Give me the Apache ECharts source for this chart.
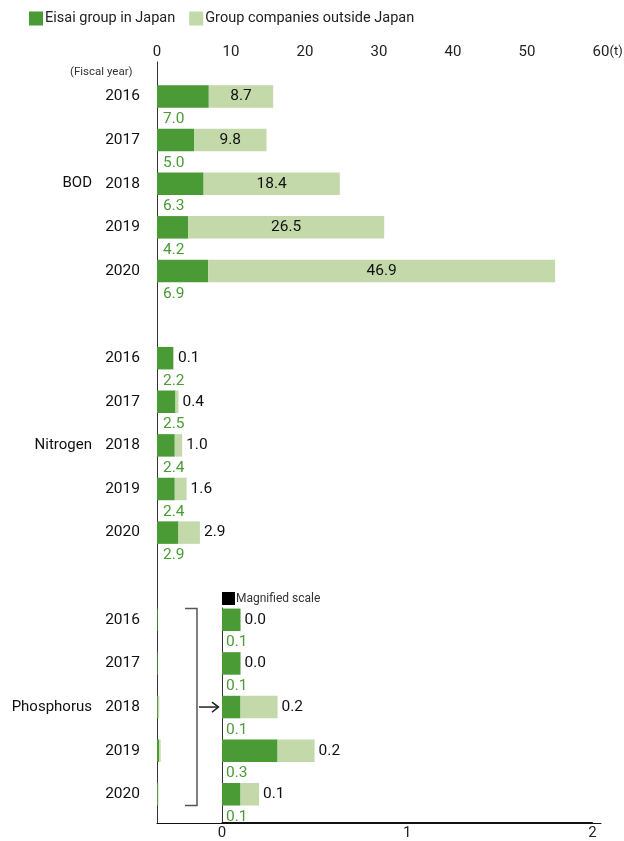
<!DOCTYPE html>
<html>
<head>
<meta charset="utf-8">
<script src="https://cdn.jsdelivr.net/npm/echarts@6/dist/echarts.min.js"></script>
<style>
html,body{margin:0;padding:0;background:#fff;}
#chart{width:624px;height:841px;}
</style>
</head>
<body>
<div id="chart"></div>
<script>
// ---- data ----
var fiscalYears = ['2016', '2017', '2018', '2019', '2020'];
var groupNames = ['BOD', 'Nitrogen', 'Phosphorus'];
var seriesNames = ['Eisai group in Japan', 'Group companies outside Japan'];
var japanBOD = [7.0, 5.0, 6.3, 4.2, 6.9];
var outsideBOD = [8.7, 9.8, 18.4, 26.5, 46.9];
var japanNitrogen = [2.2, 2.5, 2.4, 2.4, 2.9];
var outsideNitrogen = [0.1, 0.4, 1.0, 1.6, 2.9];
var japanPhosphorus = [0.1, 0.1, 0.1, 0.3, 0.1];
var outsidePhosphorus = [0.0, 0.0, 0.2, 0.2, 0.1];
var mainTicks = [0, 10, 20, 30, 40, 50, 60];
var magnifiedTicks = [0, 1, 2];
var unitLabel = '(t)';
var fiscalYearLabel = '(Fiscal year)';
var magnifiedLabel = 'Magnified scale';

// ---- styles ----
var DARK = '#4a9b35';
var LIGHT = '#c3d9aa';
var FONT = "Roboto, 'Liberation Sans', sans-serif";
var BAR_W = 22.5;
var SLOT = 43.61;
var GRID_A_TOP = 74.7;
var VAL_FS = 15.5;

function fmt(p) { return p.value.toFixed(1); }

// ---- build category rows (group, gap, group, gap, group) ----
var rowYears = [], rowGroups = [], rowJapan = [], rowOutside = [];
var groupsData = [[japanBOD, outsideBOD], [japanNitrogen, outsideNitrogen], [japanPhosphorus, outsidePhosphorus]];
groupsData.forEach(function (g, gi) {
  if (gi > 0) {
    rowYears.push(''); rowGroups.push('');
    rowJapan.push('-'); rowOutside.push('-');
  }
  fiscalYears.forEach(function (y, i) {
    rowYears.push(y);
    rowGroups.push(i === 2 ? groupNames[gi] : '');
    var showLabels = gi < 2;
    rowJapan.push({
      value: g[0][i],
      label: {
        show: showLabels,
        position: [6, BAR_W + 11.5],
        align: 'left', verticalAlign: 'middle',
        color: DARK, fontSize: VAL_FS, fontFamily: FONT, formatter: fmt
      }
    });
    rowOutside.push({
      value: g[1][i],
      label: {
        show: showLabels,
        position: gi === 0 ? 'inside' : 'right',
        distance: 4,
        color: '#111', fontSize: VAL_FS, fontFamily: FONT, formatter: fmt
      }
    });
  });
});

var magJapan = japanPhosphorus.map(function (v) {
  return { value: v, label: {
    show: true, position: [4, BAR_W + 11.5], align: 'left', verticalAlign: 'middle',
    color: DARK, fontSize: VAL_FS, fontFamily: FONT, formatter: fmt } };
});
var magOutside = outsidePhosphorus.map(function (v) {
  return { value: v, label: {
    show: true, position: 'right', distance: 4,
    color: '#111', fontSize: VAL_FS, fontFamily: FONT, formatter: fmt } };
});

var mainMin = mainTicks[0], mainMax = mainTicks[mainTicks.length - 1], mainInt = mainTicks[1] - mainTicks[0];
var magMin = magnifiedTicks[0], magMax = magnifiedTicks[magnifiedTicks.length - 1], magInt = magnifiedTicks[1] - magnifiedTicks[0];

var nRows = rowYears.length;
var magTop = GRID_A_TOP + 12 * SLOT;

var chart = echarts.init(document.getElementById('chart'), null, { renderer: 'canvas' });

var option = {
  animation: false,
  backgroundColor: '#fff',
  textStyle: { fontFamily: FONT },
  color: [DARK, LIGHT],
  title: [
    { text: fiscalYearLabel, left: 70, top: 66.5, padding: 0,
      textStyle: { fontSize: 11.5, fontWeight: 'normal', color: '#333', fontFamily: FONT } },
    { text: unitLabel, left: 609.5, top: 45, padding: 0,
      textStyle: { fontSize: 13, fontWeight: 'normal', color: '#222', fontFamily: FONT } },
    { text: '{sq|}{t|' + magnifiedLabel + '}', left: 222, top: 592, padding: 0,
      textStyle: { fontWeight: 'normal', rich: {
        sq: { width: 13, height: 13, backgroundColor: '#000' },
        t: { fontSize: 12, fontWeight: 'normal', color: '#333', fontFamily: FONT, padding: [0, 0, 0, 1] }
      } } }
  ],
  legend: {
    data: seriesNames,
    left: 29, top: 11, padding: 0,
    icon: 'rect', itemWidth: 14, itemHeight: 14, itemGap: 14,
    textStyle: { fontSize: 14.5, color: '#222', fontFamily: FONT, padding: [0, 0, 0, -3] }
  },
  grid: [
    { left: 157, top: 62, width: 444, height: 761 },                    // main axes frame
    { left: 157, top: GRID_A_TOP, width: 444, height: SLOT * nRows },   // main bars
    { left: 222, top: magTop, width: 370.4, height: SLOT * 5 },         // magnified bars
    { left: 222, top: 608, width: 370.4, height: 216 }                  // magnified axes frame
  ],
  xAxis: [
    { gridIndex: 0, type: 'value', position: 'top', min: mainMin, max: mainMax, interval: mainInt,
      axisLine: { show: true, lineStyle: { color: '#111', width: 1 } },
      axisTick: { show: false }, splitLine: { show: false },
      axisLabel: { fontSize: 15, color: '#222', margin: 2, fontFamily: FONT } },
    { gridIndex: 1, type: 'value', min: mainMin, max: mainMax, show: false },
    { gridIndex: 2, type: 'value', min: magMin, max: magMax, show: false },
    { gridIndex: 3, type: 'value', position: 'bottom', min: magMin, max: magMax, interval: magInt,
      axisLine: { show: true, lineStyle: { color: '#111', width: 1 } },
      axisTick: { show: false }, splitLine: { show: false },
      axisLabel: { fontSize: 15, color: '#222', margin: 4, fontFamily: FONT } }
  ],
  yAxis: [
    { gridIndex: 0, type: 'value', min: 0, max: 1,
      axisLine: { show: true, lineStyle: { color: '#333', width: 1 } },
      axisTick: { show: false }, axisLabel: { show: false }, splitLine: { show: false } },
    { gridIndex: 1, type: 'category', inverse: true, data: rowYears,
      axisLine: { show: false }, axisTick: { show: false },
      axisLabel: { fontSize: 15.5, color: '#111', margin: 17, fontFamily: FONT, interval: 0 } },
    { gridIndex: 1, type: 'category', inverse: true, data: rowGroups, position: 'left', offset: 0,
      axisLine: { show: false }, axisTick: { show: false },
      axisLabel: { fontSize: 15, color: '#111', margin: 65, fontFamily: FONT, interval: 0 } },
    { gridIndex: 2, type: 'category', inverse: true, data: fiscalYears, show: false },
    { gridIndex: 3, type: 'value', min: 0, max: 1,
      axisLine: { show: true, lineStyle: { color: '#333', width: 1 } },
      axisTick: { show: false }, axisLabel: { show: false }, splitLine: { show: false } }
  ],
  series: [
    { name: seriesNames[0], type: 'bar', xAxisIndex: 1, yAxisIndex: 1, stack: 'main',
      barWidth: BAR_W, itemStyle: { color: DARK }, data: rowJapan },
    { name: seriesNames[1], type: 'bar', xAxisIndex: 1, yAxisIndex: 1, stack: 'main',
      barWidth: BAR_W, itemStyle: { color: LIGHT }, data: rowOutside },
    { name: seriesNames[0], type: 'bar', xAxisIndex: 2, yAxisIndex: 3, stack: 'mag',
      barWidth: BAR_W, itemStyle: { color: DARK }, data: magJapan },
    { name: seriesNames[1], type: 'bar', xAxisIndex: 2, yAxisIndex: 3, stack: 'mag',
      barWidth: BAR_W, itemStyle: { color: LIGHT }, data: magOutside }
  ]
};
chart.setOption(option);

// bracket + arrow linking the main phosphorus rows to the magnified scale
var pTop = chart.convertToPixel({ xAxisIndex: 2, yAxisIndex: 3 }, [0, 0]);
var pMid = chart.convertToPixel({ xAxisIndex: 2, yAxisIndex: 3 }, [0, 2]);
var pBot = chart.convertToPixel({ xAxisIndex: 2, yAxisIndex: 3 }, [0, 4]);
var x0 = pTop[0];
var yT = pTop[1] - BAR_W / 2, yB = pBot[1] + BAR_W / 2, yM = pMid[1];
chart.setOption({
  graphic: [
    { type: 'polyline', shape: { points: [[x0 - 37, yT], [x0 - 25, yT], [x0 - 25, yB], [x0 - 37, yB]] },
      style: { stroke: '#555', lineWidth: 1.5, fill: null } },
    { type: 'line', shape: { x1: x0 - 23, y1: yM, x2: x0 - 4, y2: yM },
      style: { stroke: '#222', lineWidth: 1.5 } },
    { type: 'polyline', shape: { points: [[x0 - 10, yM - 5], [x0 - 3.5, yM], [x0 - 10, yM + 5]] },
      style: { stroke: '#222', lineWidth: 1.5, fill: null } }
  ]
});
</script>
</body>
</html>
